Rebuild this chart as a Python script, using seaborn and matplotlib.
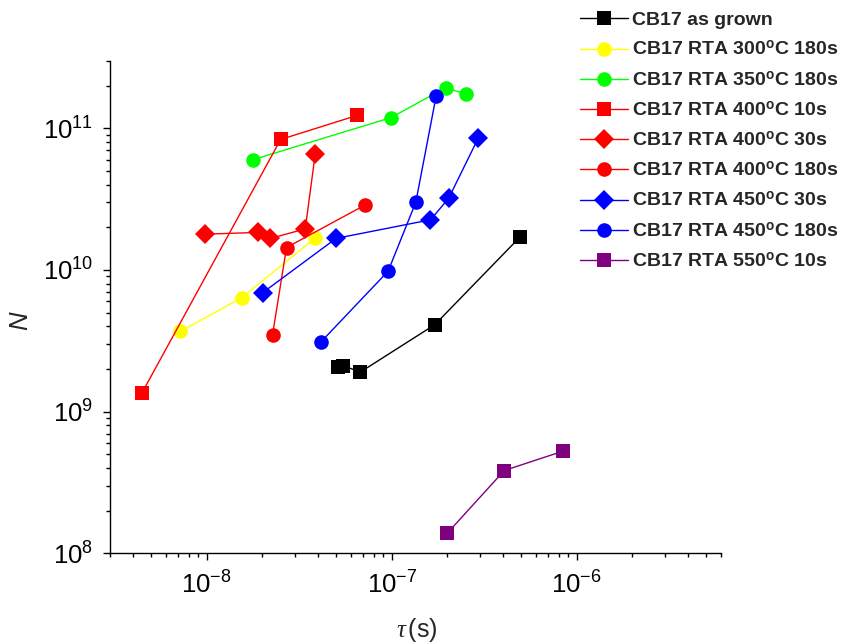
import matplotlib
matplotlib.use('Agg')
import matplotlib.pyplot as plt
from matplotlib.ticker import FixedLocator, NullFormatter
import numpy as np
import pandas as pd
import seaborn as sns

# sample names (legend order = draw order)
samples = ['CB17 as grown',
           r'CB17 RTA 300$^{\mathbf{o}}$C 180s',
           r'CB17 RTA 350$^{\mathbf{o}}$C 180s',
           r'CB17 RTA 400$^{\mathbf{o}}$C 10s',
           r'CB17 RTA 400$^{\mathbf{o}}$C 30s',
           r'CB17 RTA 400$^{\mathbf{o}}$C 180s',
           r'CB17 RTA 450$^{\mathbf{o}}$C 30s',
           r'CB17 RTA 450$^{\mathbf{o}}$C 180s',
           r'CB17 RTA 550$^{\mathbf{o}}$C 10s']

as_grown_tau = [5.15e-8, 5.48e-8, 6.76e-8, 1.71e-7, 4.96e-7]
as_grown_N = [2.06e9, 2.11e9, 1.90e9, 4.11e9, 1.72e10]

rta300_180_tau = [7.2e-9, 1.55e-8, 3.83e-8]
rta300_180_N = [3.68e9, 6.38e9, 1.67e10]

rta350_180_tau = [1.79e-8, 9.93e-8, 1.96e-7, 2.51e-7]
rta350_180_N = [6.02e10, 1.19e11, 1.94e11, 1.74e11]

rta400_10_tau = [4.46e-9, 2.51e-8, 6.53e-8]
rta400_10_N = [1.35e9, 8.34e10, 1.235e11]

rta400_30_tau = [9.84e-9, 1.89e-8, 2.21e-8, 3.41e-8, 3.86e-8]
rta400_30_N = [1.79e10, 1.84e10, 1.67e10, 1.95e10, 6.6e10]

rta400_180_tau = [2.27e-8, 2.70e-8, 7.2e-8]
rta400_180_N = [3.5e9, 1.44e10, 2.88e10]

rta450_30_tau = [2.01e-8, 5.0e-8, 1.62e-7, 2.03e-7, 2.93e-7]
rta450_30_N = [6.92e9, 1.67e10, 2.26e10, 3.2e10, 8.48e10]

rta450_180_tau = [4.13e-8, 9.56e-8, 1.35e-7, 1.74e-7]
rta450_180_N = [3.09e9, 9.8e9, 3.01e10, 1.70e11]

rta550_10_tau = [2.0e-7, 4.06e-7, 8.43e-7]
rta550_10_N = [1.39e8, 3.84e8, 5.26e8]

colors = ['#000000', '#FFFF00', '#00FF00', '#FF0000', '#FF0000', '#FF0000',
          '#0000FF', '#0000FF', '#800080']
marker_list = ['s', 'o', 'o', 's', 'D', 'o', 'D', 'o', 's']

taus = [as_grown_tau, rta300_180_tau, rta350_180_tau, rta400_10_tau, rta400_30_tau,
        rta400_180_tau, rta450_30_tau, rta450_180_tau, rta550_10_tau]
Ns = [as_grown_N, rta300_180_N, rta350_180_N, rta400_10_N, rta400_30_N,
      rta400_180_N, rta450_30_N, rta450_180_N, rta550_10_N]

frames = []
for name, t, n in zip(samples, taus, Ns):
    frames.append(pd.DataFrame({'tau': t, 'N': n, 'sample': name}))
df = pd.concat(frames, ignore_index=True)

sns.set_style('ticks')
plt.rcParams['font.family'] = ['Liberation Sans', 'DejaVu Sans']
plt.rcParams['mathtext.fontset'] = 'custom'
plt.rcParams['mathtext.rm'] = 'Liberation Sans'
plt.rcParams['mathtext.bf'] = 'Liberation Sans:bold'
plt.rcParams['mathtext.it'] = 'Liberation Serif:italic'
plt.rcParams['axes.unicode_minus'] = False

fig = plt.figure(figsize=(8.44, 6.43), dpi=100)
ax = fig.add_axes([0.1303, 0.1395, 0.7236, 0.7661])

sns.lineplot(data=df, x='tau', y='N', hue='sample', style='sample',
             hue_order=samples, style_order=samples,
             palette=dict(zip(samples, colors)),
             markers=dict(zip(samples, marker_list)), dashes=False,
             sort=False, estimator=None, markersize=10.5, markeredgewidth=0,
             linewidth=1, ax=ax)

ax.set_xscale('log')
ax.set_yscale('log')
ax.set_xlim(3e-9, 6e-6)
ax.set_ylim(1e8, 3e11)

# minor ticks at 2..9 of every decade
subs = np.arange(2, 10)
x_minor = np.outer(10.0 ** np.arange(-9, -5), subs).ravel()
y_minor = np.outer(10.0 ** np.arange(8, 12), subs).ravel()
ax.xaxis.set_minor_locator(FixedLocator(x_minor))
ax.yaxis.set_minor_locator(FixedLocator(y_minor))
ax.xaxis.set_minor_formatter(NullFormatter())
ax.yaxis.set_minor_formatter(NullFormatter())

sns.despine(ax=ax)
for s in ['left', 'bottom']:
    ax.spines[s].set_linewidth(1.0)
    ax.spines[s].set_color('black')
ax.tick_params(which='major', direction='out', length=5, width=1, labelsize=18.5,
               colors='black')
ax.tick_params(axis='y', which='major', pad=7)
ax.tick_params(axis='x', which='major', pad=8)
ax.tick_params(which='minor', direction='out', length=2.6, width=1,
               colors='black', bottom=True, left=True)

ax.set_xlabel(r'$\mathit{\tau}\,$(s)', fontsize=18)
ax.set_ylabel('N', fontsize=18.5, fontstyle='italic')
ax.xaxis.set_label_coords(0.502, -0.128)
ax.yaxis.set_label_coords(-0.127, 0.4716)

leg = ax.get_legend()
handles = leg.legend_handles
labels = [t.get_text() for t in leg.get_texts()]
leg.remove()
ax.legend(handles, labels, loc='upper left', bbox_to_anchor=(580 / 844, 0.982),
          bbox_transform=fig.transFigure, frameon=False, borderpad=0,
          borderaxespad=0, handlelength=2.45, handletextpad=0.25,
          labelspacing=0.56, prop={'weight': 'bold', 'size': 14})

fig.savefig('out.png', dpi=100)
